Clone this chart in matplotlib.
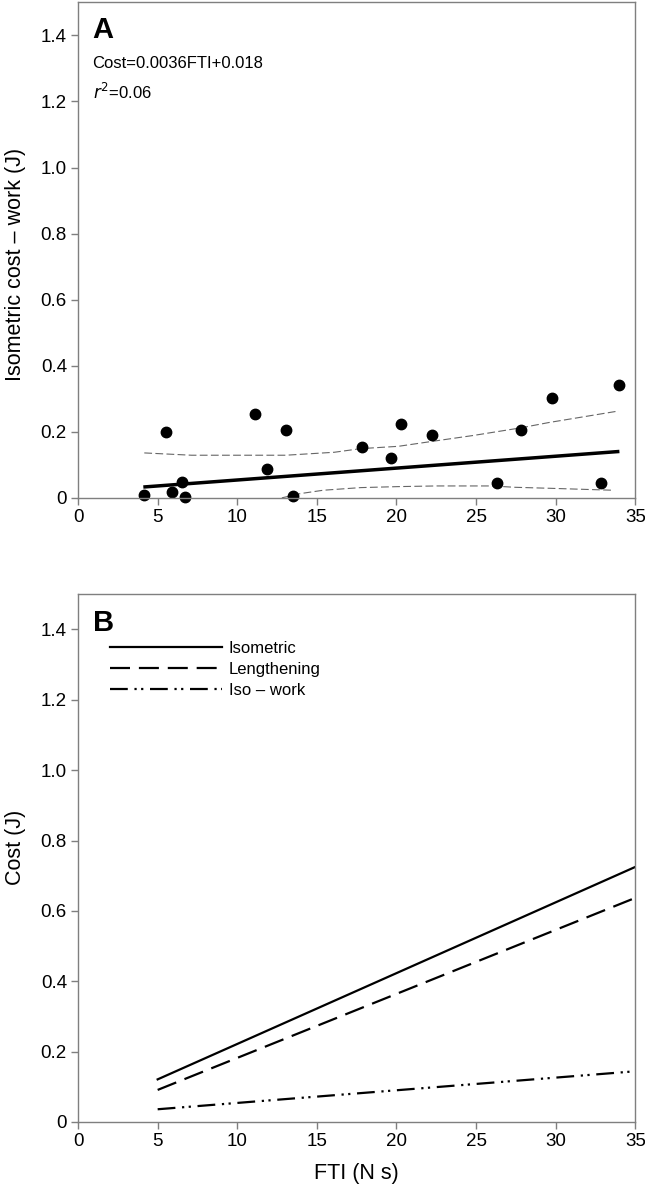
import matplotlib.pyplot as plt
import numpy as np

plt.rcParams['font.family'] = ['Liberation Sans', 'DejaVu Sans']

# panel A: measured points
fti_pts = [4.16, 5.53, 5.90, 6.52, 6.73, 11.10, 11.86, 13.08, 13.53, 17.81,
           19.67, 20.31, 22.25, 26.31, 27.82, 29.76, 32.83, 33.96]
cost_pts = [0.010, 0.199, 0.018, 0.049, 0.003, 0.254, 0.087, 0.204, 0.007, 0.155,
            0.121, 0.225, 0.191, 0.046, 0.204, 0.302, 0.044, 0.343]

# regression line
fit_x = [4.1, 34.0]
fit_slope = 0.0036
fit_icpt = 0.018

# confidence bands
upper_x = [4.16, 5.0, 7.13, 13.04, 16.1, 17.76, 20.12, 22.25, 24.85, 27.82, 29.57, 33.96]
upper_y = [0.136, 0.134, 0.129, 0.129, 0.138, 0.149, 0.156, 0.171, 0.189, 0.212, 0.228, 0.263]
lower_x = [12.8, 13.98, 15.4, 17.76, 20.12, 22.5, 26.0, 27.4, 29.57, 33.6]
lower_y = [0.0, 0.013, 0.023, 0.031, 0.034, 0.036, 0.036, 0.032, 0.029, 0.023]

# panel B: lines
b_x = [5, 35]
iso_y = [0.121, 0.725]
len_y = [0.091, 0.637]
isowork_y = [0.036, 0.144]

spine_col = '#7f7f7f'


def style_ax(ax):
    for s in ax.spines.values():
        s.set_color(spine_col)
        s.set_linewidth(1.0)
    ax.tick_params(axis='both', direction='out', length=5, width=1, color=spine_col,
                   labelsize=13.5, pad=3, top=False, right=False)
    ax.set_xlim(0, 35)
    ax.set_ylim(0, 1.5)
    ax.set_xticks(np.arange(0, 36, 5))
    ax.set_yticks([0, 0.2, 0.4, 0.6, 0.8, 1.0, 1.2, 1.4])
    ax.set_yticklabels(['0', '0.2', '0.4', '0.6', '0.8', '1.0', '1.2', '1.4'])


fig = plt.figure(figsize=(6.45, 11.91), dpi=100)

axA = fig.add_axes([0.121, 0.582, 0.864, 0.416])
style_ax(axA)
axA.plot(upper_x, upper_y, color='#666666', lw=0.8, dashes=(7, 3))
axA.plot(lower_x, lower_y, color='#666666', lw=0.8, dashes=(7, 3))
fx = np.array(fit_x)
axA.plot(fx, fit_slope * fx + fit_icpt, color='black', lw=2.5, solid_capstyle='butt')
axA.plot(fti_pts, cost_pts, 'o', color='black', ms=7.5, clip_on=False)
axA.set_ylabel('Isometric cost \u2013 work (J)', fontsize=15.5)
axA.yaxis.set_label_coords(-0.093, 0.472)
axA.text(0.026, 0.972, 'A', transform=axA.transAxes, fontsize=21, fontweight='bold', va='top')
axA.text(0.026, 0.876, 'Cost=0.0036FTI+0.018', transform=axA.transAxes, fontsize=12, va='center')
axA.text(0.026, 0.82, '$\\mathit{r}^{2}$=0.06', transform=axA.transAxes, fontsize=12, va='center')

axB = fig.add_axes([0.121, 0.058, 0.864, 0.443])
style_ax(axB)
axB.plot(b_x, iso_y, color='black', lw=1.6, label='Isometric')
axB.plot(b_x, len_y, color='black', lw=1.6, dashes=(9, 4), label='Lengthening')
axB.plot(b_x, isowork_y, color='black', lw=1.6, dashes=(8, 3, 1, 2, 1, 3), label='Iso \u2013 work')
axB.set_ylabel('Cost (J)', fontsize=15.5)
axB.yaxis.set_label_coords(-0.093, 0.521)
axB.set_xlabel('FTI (N s)', fontsize=15.5)
axB.xaxis.set_label_coords(0.5, -0.078)
axB.text(0.026, 0.972, 'B', transform=axB.transAxes, fontsize=21, fontweight='bold', va='top')
axB.legend(loc='upper left', bbox_to_anchor=(0.046, 0.925), frameon=False, fontsize=12,
           handlelength=6.7, handletextpad=0.4, labelspacing=0.38, borderaxespad=0)

fig.savefig('out.png', dpi=100)
